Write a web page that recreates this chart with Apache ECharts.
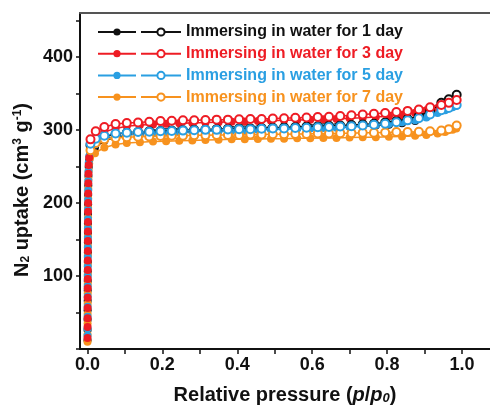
<!DOCTYPE html>
<html><head><meta charset="utf-8">
<script src="https://cdn.jsdelivr.net/npm/echarts@6/dist/echarts.min.js"></script>
<style>html,body{margin:0;padding:0;background:#fff}#c{width:490px;height:413px}</style>
</head><body><div id="c"></div>
<script>
// ---- data ----
const seriesNames = ['Immersing in water for 1 day','Immersing in water for 3 day','Immersing in water for 5 day','Immersing in water for 7 day'];
const colors = ['#111111','#ee1c24','#2a9fe2','#f7921e'];

const pAds = [0.0001,0.0002,0.0003,0.0004,0.0005,0.0006,0.0007,0.0008,0.0009,0.001,0.0011,0.0012,0.0013,0.0015,0.0017,0.0019,0.0022,0.0026,0.0032,0.0045,0.007,
  0.02,0.045,0.075,0.105,0.14,0.175,0.21,0.245,0.28,0.315,0.35,0.385,0.42,0.455,0.49,0.525,0.56,0.595,0.63,0.665,0.70,0.735,0.77,0.805,0.84,0.875,0.905,0.935,0.955,0.975,0.985];

const ads1 = [12,26,40,53,66,80,93,106,119,132,146,159,172,185,198,211,224,237,249,258,266,
  276,285,290,293,295,296,297,298,298.5,299,299.5,300,300.5,301,301.5,302,302.5,303,303.5,304,304.5,305,306,307,309,312,318,327,333,339,343];
const ads3 = [15,30,42,56,70,83,96,108,121,134,148,161,174,188,200,213,227,240,252,262,272,
  286,297,302,305,306.5,307.5,308.5,309,309.5,310,310.5,311,311.5,312,312.5,313,313.5,314,314.5,315,316,316.5,317.5,318.5,320,323,327,330,333,337,340];
const ads5 = [18,28,44,58,72,86,100,113,126,139,152,165,178,191,204,217,230,243,255,264,272,
  280,288,291,293,294.5,295.5,296.5,297,297.5,298,298.5,299,299.5,300,300.5,301,301.5,302,302.5,303,304,305,306.5,308,310.5,313,317,323,327,331,333];
const ads7 = [10,20,35,48,62,76,89,102,115,128,141,154,167,180,193,206,219,232,244,254,262,
  268,276,280,282,283,284,284.5,285,285.5,286,286.5,287,287,287.5,288,288,288.5,288.5,289,289,289.5,290,290,290.5,291,292,293,295,297,300,302];

const pDes = [0.986,0.965,0.945,0.915,0.885,0.855,0.825,0.795,0.765,0.735,0.705,0.675,0.645,0.615,0.585,0.555,0.525,0.495,0.465,0.435,0.405,0.375,0.345,0.315,0.285,0.255,0.225,0.195,0.165,0.135,0.105,0.075,0.045,0.022,0.008];
const des1 = [348,342,337,326,319,315,312,310,308.5,307.5,306.5,306,305.5,305,304.5,304,303.5,303,302.5,302,302,301.5,301,300.5,300,299.5,299,298.5,298,297,296,294,291,287,279];
const des3 = [341,337,334,331,328,326,324.5,323,322,321,320,319,318,317.5,317,316.5,316,315.5,315,315,314.5,314,314,313.5,313,313,312.5,312,311,310,309.5,308,304,298,287];
const des5 = [334,330,327,321,316,313,310.5,308.5,307,306,305,304.5,304,303.5,303,302.5,302,302,301.5,301,301,300.5,300,300,299.5,299,298.5,298,297.5,297,296,295,292,288,281];
const des7 = [306,301,299,298,297.5,297,297,296.5,296,296,295.5,295.5,295,295,294.5,294.5,294,294,293.5,293.5,293,293,293,292.5,292.5,292,292,291.5,291,290.5,290,289,287,282,272];

const xLabelVals = [0,0.2,0.4,0.6,0.8,1.0];
const xTickVals = [0,0.1,0.2,0.3,0.4,0.5,0.6,0.7,0.8,0.9,1.0];
const yLabelVals = [100,200,300,400];
const yTickVals = [0,50,100,150,200,250,300,350,400,450];

// ---- build ----
const FONT = 'Liberation Sans, Arial, sans-serif';
const adsAll = [ads1, ads3, ads5, ads7];
const desAll = [des1, des3, des5, des7];
const zip = (xs, ys) => xs.map((x, i) => [x, ys[i]]);
const drawOrder = [0, 3, 2, 1];
const series = [];
drawOrder.forEach(k => {
  series.push({
    name: seriesNames[k] + ' ', type: 'line', data: zip(pAds, adsAll[k]),
    symbol: 'circle', symbolSize: 8, showSymbol: true,
    lineStyle: { color: colors[k], width: 1.5 },
    itemStyle: { color: colors[k] }, z: 2
  });
  series.push({
    name: seriesNames[k], type: 'line', data: zip(pDes, desAll[k]),
    symbol: 'emptyCircle', symbolSize: 8, showSymbol: true,
    lineStyle: { color: colors[k], width: 1.5 },
    itemStyle: { color: colors[k], borderWidth: 1.5 }, z: 3
  });
});

const chart = echarts.init(document.getElementById('c'), null, { renderer: 'canvas' });
const axisTitle = { fontFamily: FONT, fontWeight: 'bold', fontSize: 20, color: '#111' };
chart.setOption({
  animation: false,
  backgroundColor: '#ffffff',
  grid: { left: 80, top: 13, right: 0, bottom: 64, show: false },
  legend: [
    {
      data: seriesNames.map(n => n + ' '), orient: 'vertical', left: 97, top: 24, padding: 0,
      itemWidth: 38, itemHeight: 9, itemGap: 5.7, formatter: () => ' ',
      textStyle: { fontSize: 16, lineHeight: 16, fontFamily: FONT }, selectedMode: false
    },
    {
      data: seriesNames.map((n, k) => ({ name: n, textStyle: { color: colors[k] } })),
      orient: 'vertical', left: 140, top: 24, padding: 0,
      itemWidth: 40, itemHeight: 9, itemGap: 5.7,
      textStyle: { fontSize: 16, lineHeight: 16, fontFamily: FONT, fontWeight: 'bold' }, selectedMode: false
    }
  ],
  xAxis: [
    {
      type: 'value', min: -0.02, max: 1.075,
      name: '{a|Relative pressure (}{i|p}{a|/}{i|p}{s|0}{a|)}',
      nameLocation: 'middle', nameGap: 36,
      nameTextStyle: { rich: { a: axisTitle, i: Object.assign({}, axisTitle, { fontStyle: 'italic' }), s: Object.assign({}, axisTitle, { fontStyle: 'italic', fontSize: 13, verticalAlign: 'bottom' }) } },
      axisLine: { onZero: false, lineStyle: { color: '#111', width: 2 } },
      axisTick: { show: true, inside: false, length: 5, lineStyle: { color: '#111', width: 1.5 }, customValues: xTickVals },
      axisLabel: { customValues: xLabelVals, formatter: v => v.toFixed(1), fontFamily: FONT, fontWeight: 'bold', fontSize: 18, color: '#111', margin: 7 },
      splitLine: { show: false }
    },
    {
      type: 'value', min: -0.02, max: 1.075, position: 'top',
      axisLine: { onZero: false, lineStyle: { color: '#555', width: 2 } },
      axisTick: { show: false }, axisLabel: { show: false }, splitLine: { show: false }
    }
  ],
  yAxis: {
    type: 'value', min: 0, max: 460,
    name: '{a|N}{s|2}{a| uptake (cm}{p|3}{a| g}{p|-1}{a|)}',
    nameLocation: 'middle', nameGap: 46, nameRotate: 90,
    nameTextStyle: { padding: [0, 18, 0, 0], rich: { a: axisTitle, s: Object.assign({}, axisTitle, { fontSize: 12, verticalAlign: 'bottom' }), p: Object.assign({}, axisTitle, { fontSize: 12, verticalAlign: 'top' }) } },
    axisLine: { onZero: false, lineStyle: { color: '#111', width: 2 } },
    axisTick: { show: true, length: 4, lineStyle: { color: '#111', width: 1.5 }, customValues: yTickVals },
    axisLabel: { customValues: yLabelVals, fontFamily: FONT, fontWeight: 'bold', fontSize: 18, color: '#111', margin: 7 },
    splitLine: { show: false }
  },
  series: series
});
</script></body></html>
